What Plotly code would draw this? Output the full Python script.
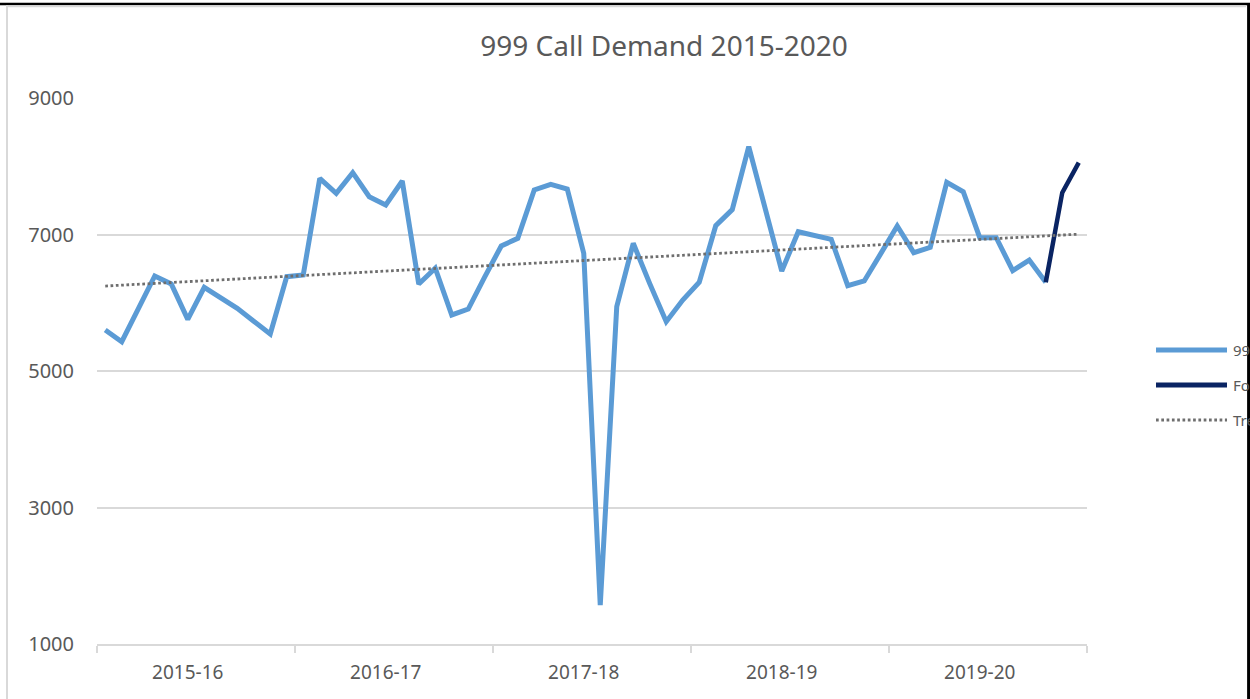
import plotly.graph_objects as go

# ---- data ----
years = ["2015-16", "2016-17", "2017-18", "2018-19", "2019-20"]
months = ["Apr", "May", "Jun", "Jul", "Aug", "Sep", "Oct", "Nov", "Dec", "Jan", "Feb", "Mar"]

calls = [5601, 5429, 5910, 6392, 6275, 5757, 6226, 6070, 5919, 5730, 5542, 6382,
         6407, 7823, 7603, 7906, 7554, 7432, 7784, 6275, 6505, 5821, 5908, 6380,
         6832, 6944, 7652, 7735, 7667, 6724, 1571, 5942, 6871, 6280, 5723, 6040,
         6300, 7129, 7365, 8287, 7400, 6465, 7041, 6983, 6930, 6250, 6319, 6720,
         7125, 6734, 6812, 7765, 7627, 6953, 6953, 6470, 6626, 6300]
forecast = [6300, 7613, 8052]
trend_ends = [6245, 7005]

y_ticks = [1000, 3000, 5000, 7000, 9000]

# ---- derived positions (month index) ----
n_months = len(years) * len(months)
x_calls = list(range(len(calls)))
x_fc = list(range(len(calls) - 1, len(calls) - 1 + len(forecast)))
x_trend = [0, n_months - 1]
year_label_pos = [i * 12 + 5.0 for i in range(len(years))]
year_bounds = [i * 12 - 0.5 for i in range(len(years) + 1)]

BLUE = "#5B9BD5"
NAVY = "#0A2463"
TREND = "#6E6E6E"
GRID = "#D9D9D9"
TXT = "#595959"
FONT = "Noto Sans"
TREND_DASH = "2.7px,2.6px"

fig = go.Figure()
fig.add_trace(go.Scatter(x=x_calls, y=calls, mode="lines", name="999 Calls",
                         line=dict(color=BLUE, width=5)))
fig.add_trace(go.Scatter(x=x_fc, y=forecast, mode="lines", name="Forecast",
                         line=dict(color=NAVY, width=4.5)))
fig.add_trace(go.Scatter(x=x_trend, y=trend_ends, mode="lines", name="Trend",
                         line=dict(color=TREND, width=2.8, dash=TREND_DASH)))

# plot area in pixels
L, R, T, B = 97, 1087, 98, 644
W, H = 1250, 699

def px(x):
    return (x - L) / (R - L)

def py(y):
    return (B - y) / (B - T)

shapes = []
# frame of the cropped screenshot
shapes.append(dict(type="line", xref="paper", yref="paper", x0=px(0), x1=px(1250),
                   y0=py(4), y1=py(4), line=dict(color="black", width=2.5)))
shapes.append(dict(type="line", xref="paper", yref="paper", x0=px(7), x1=px(1246),
                   y0=py(6.3), y1=py(6.3), line=dict(color="#D9D9D9", width=2)))
shapes.append(dict(type="line", xref="paper", yref="paper", x0=px(7), x1=px(7),
                   y0=py(5), y1=py(700), line=dict(color="#D9D9D9", width=2)))
shapes.append(dict(type="line", xref="paper", yref="paper", x0=px(1248.6), x1=px(1248.6),
                   y0=py(3), y1=py(700), line=dict(color="black", width=3)))

# legend samples (legend is cropped at the right edge in the reference)
leg_y = [350, 385, 420]
leg_styles = [dict(color=BLUE, width=5), dict(color=NAVY, width=5),
              dict(color=TREND, width=2.8, dash=TREND_DASH)]
leg_names = ["999 Calls", "Forecast", "Trend"]
annotations = []
for yy, st, nm in zip(leg_y, leg_styles, leg_names):
    shapes.append(dict(type="line", xref="paper", yref="paper", x0=px(1156), x1=px(1227),
                       y0=py(yy), y1=py(yy), line=st))
    annotations.append(dict(xref="paper", yref="paper", x=px(1231), y=py(yy),
                            xanchor="left", yanchor="middle", showarrow=False,
                            text=nm, font=dict(family=FONT, size=15, color=TXT)))

fig.update_layout(
    width=W, height=H,
    margin=dict(l=L, r=W - R, t=T, b=H - B, autoexpand=False),
    paper_bgcolor="white", plot_bgcolor="white",
    showlegend=False,
    title=dict(text="999 Call Demand 2015-2020", x=664 / W, xanchor="center",
               y=1 - 46 / H, yanchor="middle",
               font=dict(family=FONT, size=28, color=TXT)),
    xaxis=dict(range=[-0.5, n_months - 0.5], tickmode="array", tickvals=year_label_pos,
               ticktext=years, ticks="", showgrid=False, zeroline=False,
               showline=True, linecolor=GRID, linewidth=2,
               tickfont=dict(family=FONT, size=19, color=TXT),
               ticklabelstandoff=10,
               minor=dict(tickmode="array", tickvals=year_bounds, ticks="outside",
                          ticklen=7, tickwidth=2, tickcolor=GRID, showgrid=False)),
    yaxis=dict(range=[1000, 9000], tickmode="array", tickvals=y_ticks,
               showgrid=True, gridcolor=GRID, gridwidth=2, zeroline=False,
               showline=False, ticks="",
               tickfont=dict(family=FONT, size=20, color=TXT),
               ticklabelstandoff=22),
    shapes=shapes,
    annotations=annotations,
)

fig.write_html("out.html", config={"displayModeBar": False},
               post_script="document.body.style.margin='0';document.body.style.overflow='hidden';")
